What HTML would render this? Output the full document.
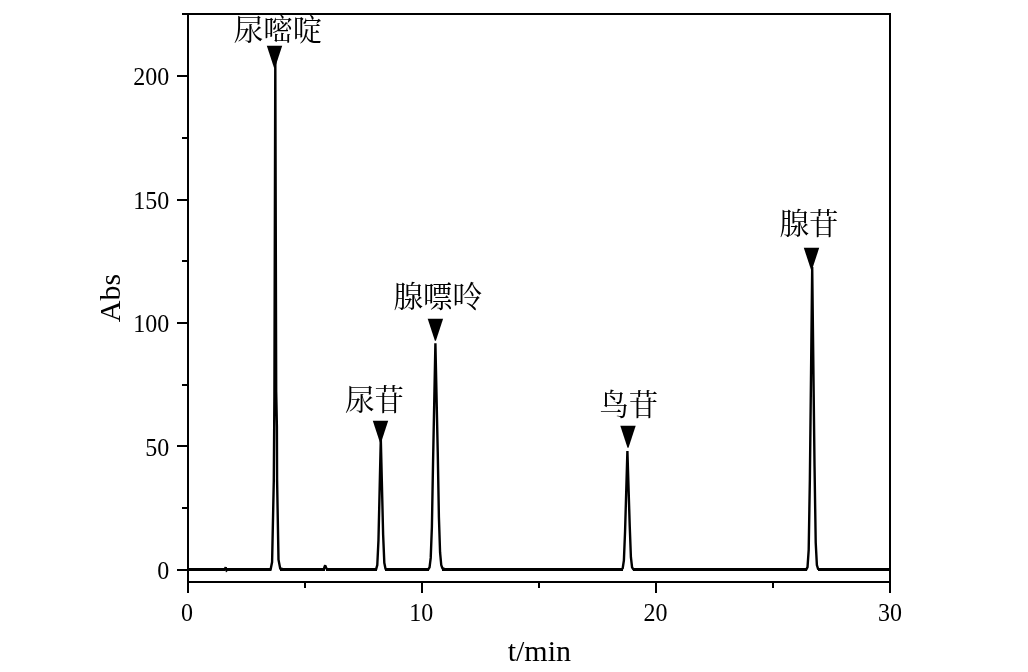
<!DOCTYPE html>
<html lang="zh-CN">
<head>
<meta charset="utf-8">
<title>HPLC chromatogram</title>
<style>
html,body{margin:0;padding:0;background:#fff;}
body{width:1028px;height:672px;overflow:hidden;}
svg{display:block;}
.ax line,.ax path{stroke:#000;stroke-width:2;shape-rendering:crispEdges;fill:none;stroke-linecap:butt;}
.tr{stroke:#000;stroke-width:2.4;fill:none;stroke-linejoin:miter;stroke-miterlimit:2;stroke-linecap:butt;}
.bl rect{fill:#000;shape-rendering:crispEdges;}
.mk{fill:#000;stroke:none;}
.cj{font-family:"Liberation Serif","Noto Serif CJK SC",serif;font-size:29.5px;font-weight:400;fill:#000;}
.nm{font-family:"Liberation Serif","Noto Serif CJK SC",serif;font-size:24px;fill:#000;}
.lb{font-family:"Liberation Serif","Noto Serif CJK SC",serif;font-size:30px;fill:#000;}
</style>
</head>
<body>
<svg width="1028" height="672" viewBox="0 0 1028 672">
<rect x="0" y="0" width="1028" height="672" fill="#fff"/>
<g class="ax">
<path d="M187,14 L891,14 M890,14 L890,593 M188,14 L188,593 M188,582 L890,582"/>
<line x1="177" y1="570" x2="188" y2="570"/>
<line x1="182" y1="508" x2="188" y2="508"/>
<line x1="177" y1="446" x2="188" y2="446"/>
<line x1="182" y1="385" x2="188" y2="385"/>
<line x1="177" y1="323" x2="188" y2="323"/>
<line x1="182" y1="261" x2="188" y2="261"/>
<line x1="177" y1="200" x2="188" y2="200"/>
<line x1="182" y1="138" x2="188" y2="138"/>
<line x1="177" y1="76" x2="188" y2="76"/>
<line x1="182" y1="14" x2="188" y2="14"/>
<line x1="188" y1="582" x2="188" y2="593"/>
<line x1="305" y1="582" x2="305" y2="588"/>
<line x1="422" y1="582" x2="422" y2="593"/>
<line x1="539" y1="582" x2="539" y2="588"/>
<line x1="656" y1="582" x2="656" y2="593"/>
<line x1="773" y1="582" x2="773" y2="588"/>
<line x1="890" y1="582" x2="890" y2="593"/>
</g>
<g class="bl"><rect x="187.4" y="568" width="37.8" height="3"/><rect x="226.0" y="568" width="2.0" height="3"/><rect x="226.8" y="568" width="44.4" height="3"/><rect x="279.6" y="568" width="5.0" height="3"/><rect x="283.4" y="568" width="40.0" height="3"/><rect x="322.2" y="568" width="2.4" height="3"/><rect x="325.8" y="568" width="2.4" height="3"/><rect x="327.0" y="568" width="45.0" height="3"/><rect x="370.8" y="568" width="3.5" height="3"/><rect x="373.2" y="568" width="2.4" height="3"/><rect x="374.3" y="568" width="2.4" height="3"/><rect x="384.9" y="568" width="2.4" height="3"/><rect x="386.1" y="568" width="2.4" height="3"/><rect x="387.2" y="568" width="3.5" height="3"/><rect x="389.6" y="568" width="3.5" height="3"/><rect x="391.9" y="568" width="3.5" height="3"/><rect x="394.2" y="568" width="3.5" height="3"/><rect x="396.6" y="568" width="3.5" height="3"/><rect x="398.9" y="568" width="3.5" height="3"/><rect x="401.3" y="568" width="25.4" height="3"/><rect x="425.4" y="568" width="3.5" height="3"/><rect x="441.8" y="568" width="3.5" height="3"/><rect x="444.2" y="568" width="3.5" height="3"/><rect x="446.5" y="568" width="3.5" height="3"/><rect x="448.8" y="568" width="3.5" height="3"/><rect x="451.2" y="568" width="3.5" height="3"/><rect x="453.5" y="568" width="3.5" height="3"/><rect x="455.9" y="568" width="162.8" height="3"/><rect x="617.4" y="568" width="3.5" height="3"/><rect x="619.8" y="568" width="2.4" height="3"/><rect x="620.9" y="568" width="2.4" height="3"/><rect x="632.6" y="568" width="2.4" height="3"/><rect x="633.8" y="568" width="3.5" height="3"/><rect x="636.2" y="568" width="3.5" height="3"/><rect x="638.5" y="568" width="3.5" height="3"/><rect x="640.8" y="568" width="3.5" height="3"/><rect x="643.2" y="568" width="3.5" height="3"/><rect x="645.5" y="568" width="3.5" height="3"/><rect x="647.9" y="568" width="155.6" height="3"/><rect x="802.2" y="568" width="3.5" height="3"/><rect x="804.6" y="568" width="2.4" height="3"/><rect x="817.5" y="568" width="2.4" height="3"/><rect x="818.6" y="568" width="3.5" height="3"/><rect x="821.0" y="568" width="3.5" height="3"/><rect x="823.3" y="568" width="3.5" height="3"/><rect x="825.6" y="568" width="3.5" height="3"/><rect x="828.0" y="568" width="3.5" height="3"/><rect x="830.3" y="568" width="3.5" height="3"/><rect x="832.7" y="568" width="57.9" height="3"/></g>
<path class="tr" d="M188.00,569.50 L224.60,569.50 L225.70,567.28 L226.60,570.24 L227.40,569.50 L270.60,569.50 L272.10,562.09 L273.80,480.58 L274.40,396.60 L275.30,55.74 L276.20,391.66 L276.90,426.24 L277.10,480.58 L278.50,559.62 L280.20,568.51 L284.00,569.50 L322.80,569.50 L324.00,568.26 L325.20,565.30 L326.40,568.51 L327.60,569.50 L371.44,569.50 L373.78,569.50 L374.95,569.49 L376.12,569.18 L377.29,565.04 L378.46,540.35 L380.80,438.59 L383.14,534.88 L384.31,562.79 L385.48,568.67 L386.65,569.31 L387.82,569.37 L390.16,569.42 L392.50,569.45 L394.84,569.47 L397.18,569.48 L399.52,569.49 L401.86,569.50 L426.04,569.50 L428.38,569.22 L429.55,567.32 L430.72,557.90 L431.89,526.95 L433.06,461.84 L435.40,343.25 L437.74,451.85 L438.91,517.32 L440.08,552.43 L441.25,565.04 L442.42,568.24 L444.76,569.08 L447.10,569.24 L449.44,569.34 L451.78,569.40 L454.12,569.44 L456.46,569.50 L618.04,569.50 L620.38,569.50 L621.55,569.40 L622.72,568.26 L623.89,560.37 L625.06,531.57 L627.40,450.94 L629.74,526.31 L630.91,557.19 L632.08,567.27 L633.25,569.14 L634.42,569.37 L636.76,569.43 L639.10,569.45 L641.44,569.47 L643.78,569.48 L646.12,569.49 L648.46,569.50 L802.84,569.50 L805.18,569.49 L806.35,569.35 L807.52,567.17 L808.69,549.92 L809.86,479.88 L812.20,266.92 L814.54,466.55 L815.71,542.49 L816.88,565.05 L818.05,568.78 L819.22,569.19 L821.56,569.31 L823.90,569.38 L826.24,569.43 L828.58,569.45 L830.92,569.47 L833.26,569.50 L890.00,569.50"/>
<path class="mk" d="M266.8,45.8 L282.2,45.8 L275.0,67.8 L274.0,67.8 Z"/>
<path class="mk" d="M372.8,420.8 L388.2,420.8 L381.0,442.8 L380.0,442.8 Z"/>
<path class="mk" d="M427.7,318.8 L443.1,318.8 L435.9,340.8 L434.9,340.8 Z"/>
<path class="mk" d="M620.3,425.8 L635.7,425.8 L628.5,447.8 L627.5,447.8 Z"/>
<path class="mk" d="M803.8,247.8 L819.2,247.8 L812.0,269.8 L811.0,269.8 Z"/>
<text class="cj" x="278.0" y="40.3" text-anchor="middle">尿嘧啶</text>
<text class="cj" x="374.6" y="410.0" text-anchor="middle">尿苷</text>
<text class="cj" x="437.8" y="307.0" text-anchor="middle">腺嘌呤</text>
<text class="cj" x="628.7" y="415.0" text-anchor="middle">鸟苷</text>
<text class="cj" x="808.9" y="234.4" text-anchor="middle">腺苷</text>
<text class="nm" transform="translate(169.2,579.0) scale(1,1.07)" text-anchor="end">0</text>
<text class="nm" transform="translate(169.2,455.5) scale(1,1.07)" text-anchor="end">50</text>
<text class="nm" transform="translate(169.2,332.0) scale(1,1.07)" text-anchor="end">100</text>
<text class="nm" transform="translate(169.2,208.5) scale(1,1.07)" text-anchor="end">150</text>
<text class="nm" transform="translate(169.2,85.0) scale(1,1.07)" text-anchor="end">200</text>
<text class="nm" transform="translate(187.0,621) scale(1,1.07)" text-anchor="middle">0</text>
<text class="nm" transform="translate(421.3,621) scale(1,1.07)" text-anchor="middle">10</text>
<text class="nm" transform="translate(655.6,621) scale(1,1.07)" text-anchor="middle">20</text>
<text class="nm" transform="translate(890.0,621) scale(1,1.07)" text-anchor="middle">30</text>
<text class="lb" x="120.2" y="298" text-anchor="middle" transform="rotate(-90 120.2 298)">Abs</text>
<text class="lb" x="539.3" y="661" text-anchor="middle">t/min</text>
</svg>
</body>
</html>
